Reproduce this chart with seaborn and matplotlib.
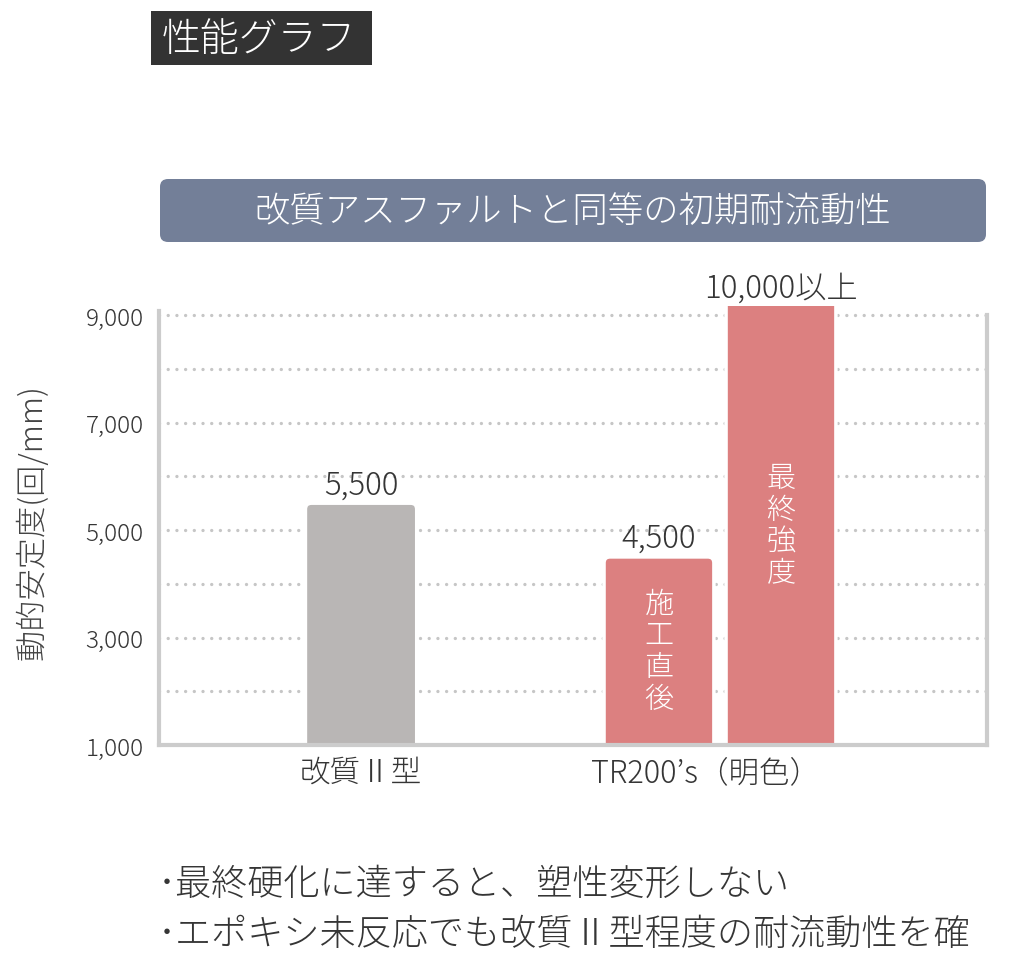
import matplotlib
matplotlib.use("Agg")
import matplotlib.pyplot as plt
from matplotlib.patches import FancyBboxPatch, Rectangle
from matplotlib.transforms import ScaledTranslation
import seaborn as sns
import pandas as pd

# data
groups = ["改質Ⅱ型", "TR200’s（明色）", "TR200’s（明色）"]
series = ["改質Ⅱ型", "施工直後", "最終強度"]
values = [5500, 4500, 10000]
label_suffix = ["", "", "以上"]
yticks = [1000, 3000, 5000, 7000, 9000]
grid_levels = [2000, 3000, 4000, 5000, 6000, 7000, 8000, 9000]

title = "性能グラフ"
banner = "改質アスファルトと同等の初期耐流動性"
ylabel = "動的安定度(回/mm)"
notes = ["･最終硬化に達すると、塑性変形しない",
         "･エポキシ未反応でも改質Ⅱ型程度の耐流動性を確"]

GRAY = "#b9b6b5"
RED = "#dc8080"
TEXT = "#353535"
SPINE = "#cccccc"
BANNER = "#737f98"

sns.set_theme(style="white")
plt.rcParams['font.family'] = ['Noto Sans CJK JP', 'DejaVu Sans']
plt.rcParams['font.weight'] = 'light'

W, H = 1010, 970
fig = plt.figure(figsize=(W / 100, H / 100), dpi=100)
fig.patch.set_facecolor("white")
ax = fig.add_axes([159 / W, 224 / H, 828 / W, 439 / H])

df = pd.DataFrame({"group": groups, "series": series, "value": values})
cats = list(dict.fromkeys(groups))
base = df[df.group == cats[0]]
tr = df[df.group == cats[1]]

sns.barplot(data=base, x="group", y="value", order=cats, color=GRAY,
            width=0.31, saturation=1, errorbar=None, ax=ax)
sns.barplot(data=tr, x="group", y="value", hue="series", order=cats,
            palette=[RED, RED], width=0.68, gap=0.1, dodge=True,
            saturation=1, errorbar=None, legend=False, ax=ax)

y_top = 9170
ax.set_ylim(1000, y_top)
ax.set_xlim(-0.563, 1.744)

# px -> data scale, used to round the bar tops evenly
x_per_px = (1.744 + 0.563) / 828
y_per_px = (y_top - 1000) / 439

bars = list(ax.patches)
rows = list(base.itertuples()) + list(tr.itertuples())
for p, row, suf in zip(bars, rows, label_suffix):
    x, w, h = p.get_x(), p.get_width(), p.get_height()
    fc = p.get_facecolor()
    p.remove()
    rb = FancyBboxPatch((x, 0), w, h,
                        boxstyle=f"round,pad=0,rounding_size={6 * x_per_px}",
                        mutation_aspect=y_per_px / x_per_px,
                        fc=fc, ec="white", lw=2.5, zorder=2)
    ax.add_patch(rb)
    cx = x + w / 2
    top = min(h, y_top)
    ax.annotate(f"{row.value:,}{suf}", xy=(cx, top), xytext=(0, 2),
                textcoords="offset points", ha="center", va="bottom",
                fontsize=22.5, color=TEXT, annotation_clip=False)
    if row.series != row.group:
        ax.text(cx, (1000 + top) / 2, "\n".join(row.series), ha="center",
                va="center", fontsize=21, color="white", linespacing=1.05,
                zorder=3)

# dotted grid
ax.set_yticks(yticks)
ax.set_yticks(grid_levels, minor=True)
ax.grid(axis="y", which="both", color="#c6c6c6", linewidth=2.4,
        linestyle=(0, (0.01, 2.6)), dash_capstyle="round")
ax.grid(axis="x", visible=False)
ax.set_axisbelow(True)

ax.set_yticklabels([f"{t:,}" for t in yticks])
ax.tick_params(axis="y", which="both", length=0, labelsize=17.5,
               labelcolor=TEXT, pad=11)
ax.tick_params(axis="x", length=0, labelsize=22, labelcolor=TEXT, pad=8)
ax.set_xlabel("")
ax.set_ylabel("")
# the second category label sits a little left of its bar pair
xlabs = ax.get_xticklabels()
xlabs[1].set_transform(xlabs[1].get_transform()
                       + ScaledTranslation(-0.14, 0, fig.dpi_scale_trans))

for side in ["left", "bottom", "right"]:
    ax.spines[side].set_visible(True)
    ax.spines[side].set_color(SPINE)
    ax.spines[side].set_linewidth(3)
ax.spines["top"].set_visible(False)
ax.spines["right"].set_bounds(1000, 9000)
ax.spines["left"].set_bounds(1000, 9080)

fig.text(32 / W, 1 - 522 / H, ylabel, rotation=90, ha="center", va="center",
         fontsize=22.5, color="#444444")

# title block
fig.add_artist(Rectangle((151 / W, 1 - 66 / H), 221 / W, 54 / H,
                         transform=fig.transFigure, fc="#333333", ec="none"))
fig.text(162 / W, 1 - 40 / H, title, ha="left", va="center", fontsize=28,
         color="white")

# banner
fig.add_artist(FancyBboxPatch((160 / W, 1 - 243 / H), 826 / W, 63 / H,
                              boxstyle="round,pad=0,rounding_size=0.008",
                              transform=fig.transFigure, fc=BANNER, ec="none"))
fig.text(573 / W, 1 - 212 / H, banner, ha="center", va="center",
         fontsize=25.5, color="white")

for i, line in enumerate(notes):
    fig.text(158 / W, 1 - (885 + 50 * i) / H, line, ha="left", va="center",
             fontsize=26, color=TEXT)

fig.savefig("out.png", dpi=100)
